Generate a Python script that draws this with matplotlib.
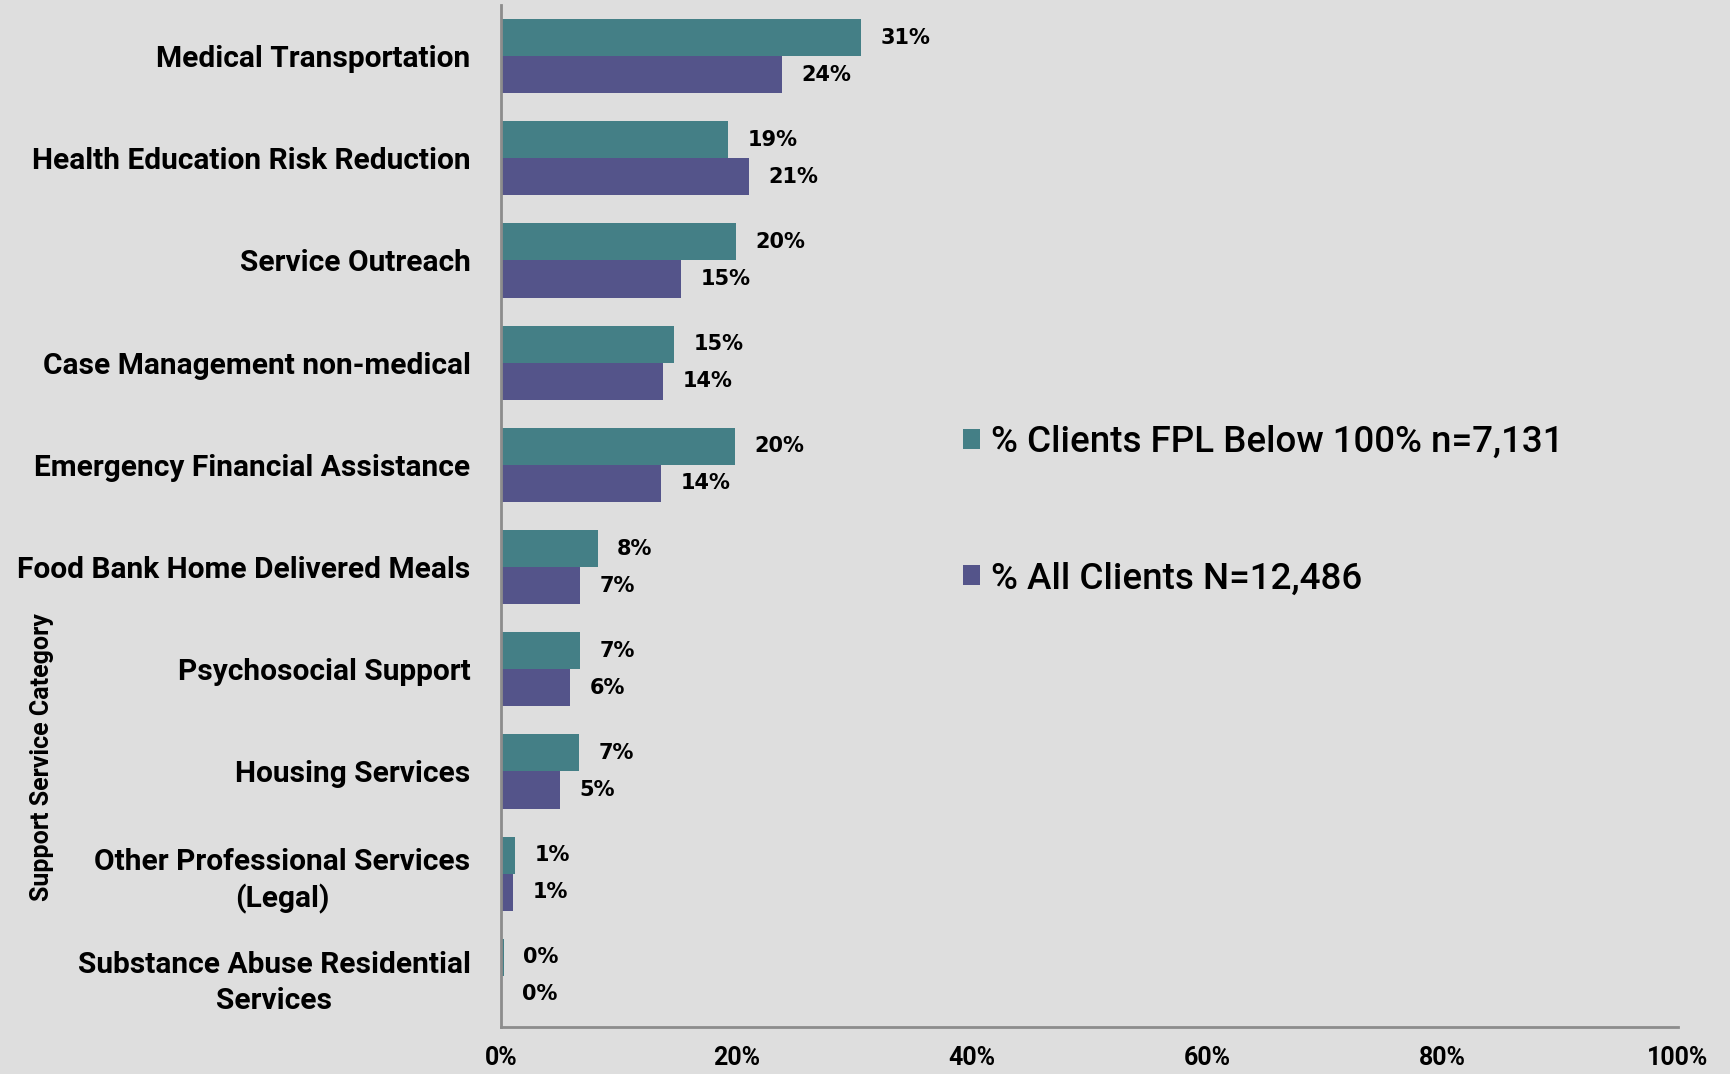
import matplotlib
matplotlib.use("Agg")
import matplotlib.pyplot as plt
from matplotlib.patches import Patch
import numpy as np

categories = [
    "Medical Transportation",
    "Health Education Risk Reduction",
    "Service Outreach",
    "Case Management non-medical",
    "Emergency Financial Assistance",
    "Food Bank Home Delivered Meals",
    "Psychosocial Support",
    "Housing Services",
    "Other Professional Services\n(Legal)",
    "Substance Abuse Residential\nServices",
]
fpl_below_100 = [30.6, 19.3, 20.0, 14.7, 19.9, 8.2, 6.7, 6.6, 1.2, 0.25]
all_clients = [23.9, 21.1, 15.3, 13.8, 13.6, 6.7, 5.9, 5.0, 1.0, 0.1]
series_names = ["% Clients FPL Below 100% n=7,131", "% All Clients N=12,486"]
x_ticks = [0, 20, 40, 60, 80, 100]

BG = "#DEDEDE"
TEAL = "#447F86"
PURPLE = "#54548A"

fig = plt.figure(figsize=(17.31, 10.74), dpi=100, facecolor=BG)
ax = fig.add_axes([501/1731, 1-1027/1074, (1678-501)/1731, (1027-5)/1074])
ax.set_facecolor(BG)

y = np.arange(len(categories))
h = 0.363
b1 = ax.barh(y - h/2, fpl_below_100, height=h, color=TEAL, label=series_names[0])
b2 = ax.barh(y + h/2, all_clients, height=h, color=PURPLE, label=series_names[1])

lab_font = dict(family="DejaVu Sans", fontsize=15, fontweight="bold")
ax.bar_label(b1, labels=[f"{v:.0f}%" for v in fpl_below_100], padding=14, **lab_font)
ax.bar_label(b2, labels=[f"{v:.0f}%" for v in all_clients], padding=14, **lab_font)

ax.set_ylim(len(categories) - 0.5, -0.5)
ax.set_xlim(0, 100)
ax.set_yticks(y)
ax.set_yticklabels(categories, fontsize=21.5, fontweight="bold", family="Roboto",
                   multialignment="center", linespacing=1.35)
ax.set_xticks(x_ticks)
ax.set_xticklabels([f"{t}%" for t in x_ticks], fontsize=18, fontweight="bold",
                   family="Roboto")
ax.tick_params(axis="y", length=0, pad=22)
ax.tick_params(axis="x", length=0, pad=14)

for s in ["top", "right"]:
    ax.spines[s].set_visible(False)
for s in ["left", "bottom"]:
    ax.spines[s].set_color("#8C8C8C")
    ax.spines[s].set_linewidth(2)

fig.text(42/1731, 1-757/1074, "Support Service Category", rotation=90,
         ha="center", va="center", fontsize=18, fontweight="bold", family="Roboto")

handles = [Patch(facecolor=TEAL), Patch(facecolor=PURPLE)]
leg = fig.legend(handles, series_names, loc="upper left",
                 bbox_to_anchor=(930/1731, 1-392/1074), frameon=False,
                 prop=dict(family="Roboto", weight="medium", size=26.5),
                 handlelength=0.47, handleheight=0.47, handletextpad=0.3,
                 labelspacing=2.75)

fig.savefig("out.png", dpi=100, facecolor=BG)
